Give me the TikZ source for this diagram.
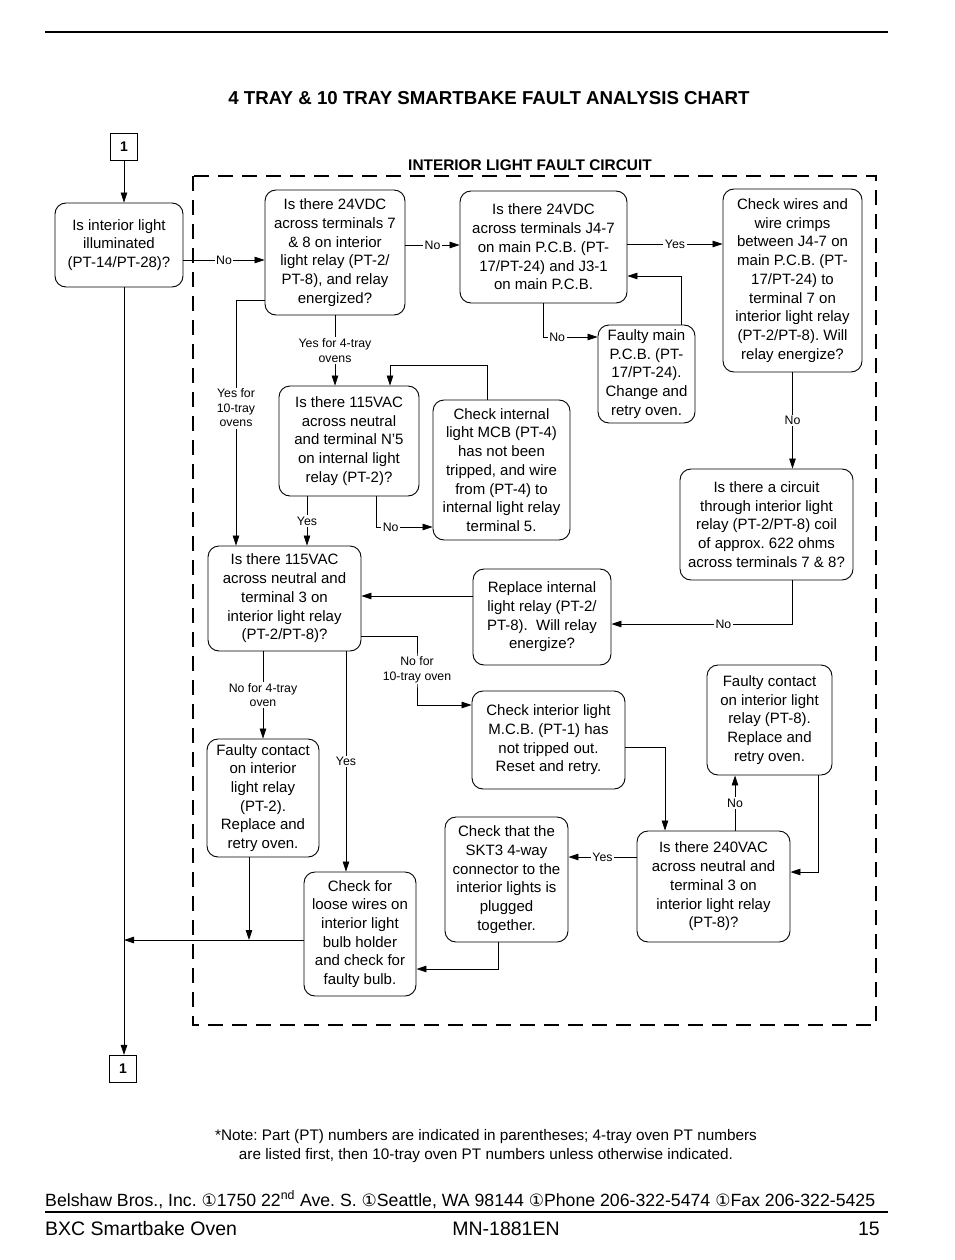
\documentclass[tikz,border=0pt]{standalone}
\usepackage{fontspec}
\setmainfont{Liberation Sans}
\newfontfamily\symfont{DejaVu Sans}
\usetikzlibrary{arrows.meta, calc, positioning}
\frenchspacing

\tikzset{
  chartbox/.style={draw, rounded corners=11pt, line width=0.9pt, align=center, inner sep=2pt, font=\fontsize{15}{18.7}\selectfont},
  conn/.style={line width=0.8pt, -{Triangle[length=10pt,width=6.5pt]}},
  plainline/.style={line width=0.8pt},
  lbl/.style={fill=white, inner sep=1.5pt, align=center, font=\fontsize{12.3}{14.5}\selectfont},
  onebox/.style={draw, line width=1.1pt, minimum size=27pt, inner sep=0pt, font=\bfseries\fontsize{14}{14}\selectfont},
}
\newcommand{\bul}{{\symfont\fontsize{17}{17}\selectfont ①}}

\begin{document}
\begin{tikzpicture}[x=1pt,y=1pt,yscale=-1,xscale=1]
		\useasboundingbox (0,0) rectangle (954,1260);

		%Straight Lines (page rule)
		\draw [line width=1.2pt] (45,32) -- (888,32);

		% Text Node
		\node (title) [anchor=base, font=\bfseries\fontsize{18.7}{20}\selectfont] at (489,105) {4 TRAY \& 10 TRAY SMARTBAKE FAULT ANALYSIS CHART};
		% Text Node
		\node (circuit) [anchor=base, font=\bfseries\fontsize{15.4}{17}\selectfont] at (530,171) {INTERIOR LIGHT FAULT CIRCUIT};

		%Dashed frame
		\draw [line width=2.6pt, dash pattern=on 15pt off 9pt] (193,176) rectangle (876,1025);

		%Connector boxes
		\node (one) [onebox] at (124,147) {1};
		\node (onebot) [onebox] at (123,1069) {1};

		%Rounded Rects
		\node (A) [chartbox, minimum width=128, minimum height=84] at (119,245) {Is interior light\\ illuminated\\ (PT-14/PT-28)?};
		\node (B) [chartbox, minimum width=140, minimum height=125] at (335,252.5) {Is there 24VDC\\ across terminals 7\\ \& 8 on interior\\ light relay (PT-2/\\ PT-8), and relay\\ energized?};
		\node (C) [chartbox, minimum width=167, minimum height=112] at (543.5,247) {Is there 24VDC\\ across terminals J4-7\\ on main P.C.B. (PT-\\ 17/PT-24) and J3-1\\ on main P.C.B.};
		\node (D) [chartbox, minimum width=139, minimum height=183] at (792.5,280.5) {Check wires and\\ wire crimps\\ between J4-7 on\\ main P.C.B. (PT-\\ 17/PT-24) to\\ terminal 7 on\\ interior light relay\\ (PT-2/PT-8). Will\\ relay energize?};
		\node (E) [chartbox, minimum width=97, minimum height=98] at (646.5,374) {Faulty main\\ P.C.B. (PT-\\ 17/PT-24).\\ Change and\\ retry oven.};
		\node (F) [chartbox, minimum width=173, minimum height=111] at (766.5,524.5) {Is there a circuit\\ through interior light\\ relay (PT-2/PT-8) coil\\ of approx. 622 ohms\\ across terminals 7 \& 8?};
		\node (G) [chartbox, minimum width=138, minimum height=96] at (542,617) {Replace internal\\ light relay (PT-2/\\ PT-8).~ Will relay\\ energize?};
		\node (H) [chartbox, minimum width=140, minimum height=110] at (349,441) {Is there 115VAC\\ across neutral\\ and terminal N’5\\ on internal light\\ relay (PT-2)?};
		\node (I) [chartbox, minimum width=137, minimum height=140] at (501.5,470) {Check internal\\ light MCB (PT-4)\\ has not been\\ tripped, and wire\\ from (PT-4) to\\ internal light relay\\ terminal 5.};
		\node (J) [chartbox, minimum width=153, minimum height=105] at (284.5,598.5) {Is there 115VAC\\ across neutral and\\ terminal 3 on\\ interior light relay\\ (PT-2/PT-8)?};
		\node (K) [chartbox, minimum width=112, minimum height=118] at (263,798) {Faulty contact\\ on interior\\ light relay\\ (PT-2).\\ Replace and\\ retry oven.};
		\node (L) [chartbox, minimum width=153, minimum height=98] at (548.5,740) {Check interior light\\ M.C.B. (PT-1) has\\ not tripped out.\\ Reset and retry.};
		\node (M) [chartbox, minimum width=125, minimum height=110] at (769.5,720) {Faulty contact\\ on interior light\\ relay (PT-8).\\ Replace and\\ retry oven.};
		\node (N) [chartbox, minimum width=153, minimum height=111] at (713.5,886.5) {Is there 240VAC\\ across neutral and\\ terminal 3 on\\ interior light relay\\ (PT-8)?};
		\node (O) [chartbox, minimum width=123, minimum height=125] at (506.5,879.5) {Check that the\\ SKT3 4-way\\ connector to the\\ interior lights is\\ plugged\\ together.};
		\node (P) [chartbox, minimum width=112, minimum height=124] at (360,934) {Check for\\ loose wires on\\ interior light\\ bulb holder\\ and check for\\ faulty bulb.};

		\coordinate (merge) at (124,940);
		\coordinate (jbend) at (417,670);

		%Straight Lines
		\draw [conn] (one.south) -- (A.north -| one.south);
		\draw [conn] (A.south -| one.south) -- (onebot.north -| one.south);
		\draw [conn] (A.east |- 0,260) -- node [lbl] {No} (B.west |- 0,260);
		\draw [conn] (B.east |- 0,245) -- node [lbl] {No} (C.west |- 0,245);
		\draw [conn] (C.east |- 0,244) -- node [lbl] {Yes} (D.west |- 0,244);
		\draw [conn] (C.south -| 543,0) |- node [lbl, pos=0.63] {No} (E.west |- 0,337);
		\draw [conn] (E.north -| 681,0) |- (C.east |- 0,276);
		\draw [conn] (D.south) -- node [lbl] {No} (F.north -| D.south);
		\draw [conn] (F.south -| 792,0) |- node [lbl, pos=0.69] {No} (G.east |- 0,624);
		\draw [conn] (G.west |- 0,596) -- (J.east |- 0,596);
		\draw [conn] (B.south) -- node [lbl] {Yes for 4-tray\\ ovens} (H.north -| B.south);
		\draw [conn] (B.west |- 0,300) -| node [lbl, pos=0.72] {Yes for\\ 10-tray\\ ovens} (J.north -| 236,0);
		\draw [conn] (I.north -| 487,0) |- ($(H.north -| 390,0)+(0,-20)$) -- (H.north -| 390,0);
		\draw [conn] (H.south -| 307,0) -- node [lbl] {Yes} (J.north -| 307,0);
		\draw [conn] (H.south -| 376,0) |- node [lbl, pos=0.63] {No} (I.west |- 0,527);
		\draw [conn] (J.east |- 0,636) -| (jbend) node [lbl] {No for\\ 10-tray oven} |- (L.west |- 0,705);
		\draw [conn] (J.south -| 263,0) -- node [lbl] {No for 4-tray\\ oven} (K.north -| 263,0);
		\draw [conn] (J.south -| 346,0) -- node [lbl] {Yes} (P.north -| 346,0);
		\draw [conn] (L.east |- 0,747) -| (N.north -| 665,0);
		\draw [conn] (N.north -| 735,0) -- node [lbl] {No} (M.south -| 735,0);
		\draw [conn] (M.south -| 818,0) |- (N.east |- 0,872);
		\draw [conn] (N.west |- 0,857) -- node [lbl] {Yes} (O.east |- 0,857);
		\draw [conn] (O.south -| 498,0) |- (P.east |- 0,969);
		\draw [conn] (K.south -| 249,0) -- (merge -| 249,0);
		\draw [conn] (P.west |- merge) -- (merge);

		% Text Node (note)
		\node (note) [anchor=base, align=center, font=\fontsize{15.3}{19}\selectfont] at (486,1159) {*Note: Part (PT) numbers are indicated in parentheses; 4-tray oven PT numbers\\ are listed first, then 10-tray oven PT numbers unless otherwise indicated.};

		% Text Node (footer)
		\node (address) [anchor=base west, inner sep=0pt, font=\fontsize{17.7}{19}\selectfont] at (45,1206) {Belshaw Bros., Inc. \bul1750 22\textsuperscript{nd} Ave. S. \bul Seattle, WA 98144 \bul Phone 206-322-5474 \bul Fax 206-322-5425};
		\draw [line width=1.5pt] (45,1212) -- (888,1212);
		\node (oven) [anchor=base west, inner sep=0pt, font=\fontsize{19.5}{21}\selectfont] at (45,1235) {BXC Smartbake Oven};
		\node (manual) [anchor=base, inner sep=0pt, font=\fontsize{19.5}{21}\selectfont] at (506,1235) {MN-1881EN};
		\node (page) [anchor=base east, inner sep=0pt, font=\fontsize{19.5}{21}\selectfont] at (880,1235) {15};

	\end{tikzpicture}
\end{document}
